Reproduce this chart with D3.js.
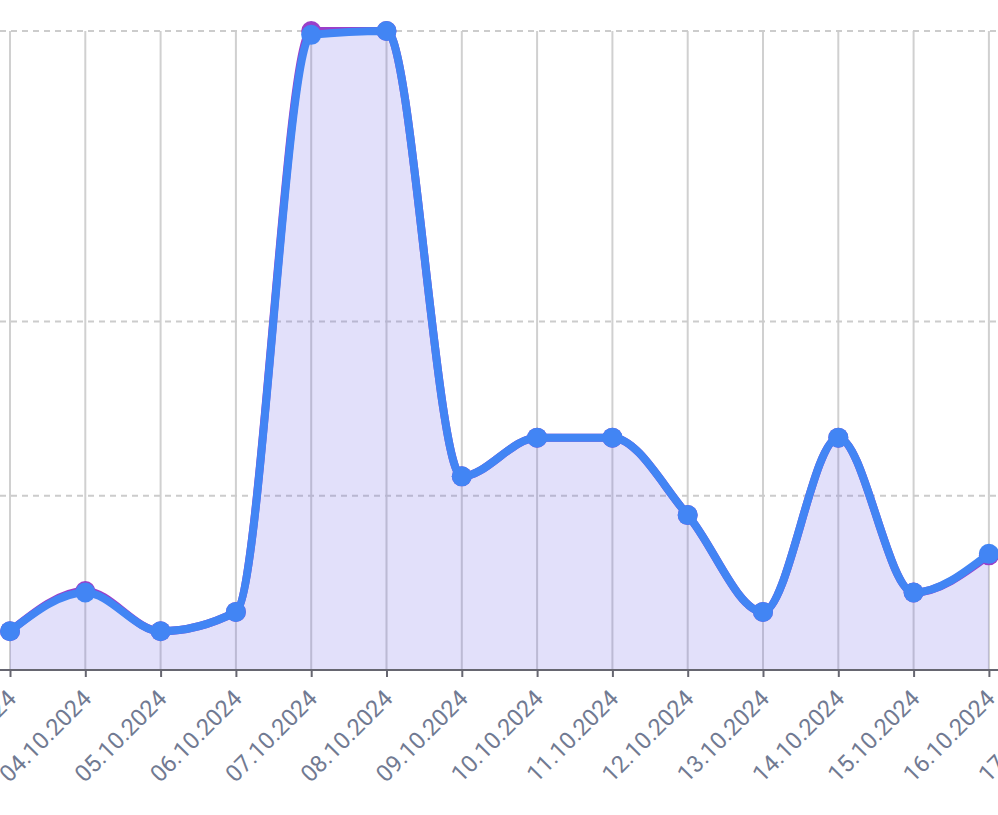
<!DOCTYPE html>
<html>
<head>
<meta charset="utf-8">
<script src="https://cdn.jsdelivr.net/npm/d3@7"></script>
<style>
html,body{margin:0;padding:0;background:#fff;overflow:hidden;}
svg{display:block;}
</style>
</head>
<body>
<svg id="chart" width="998" height="815"></svg>
<script>
const dates = ['03.10.2024','04.10.2024','05.10.2024','06.10.2024','07.10.2024','08.10.2024','09.10.2024','10.10.2024','11.10.2024','12.10.2024','13.10.2024','14.10.2024','15.10.2024','16.10.2024','17.10.2024'];
const dataDates = dates.slice(0, 14);
const seriesTotal = [2, 4.08, 2, 3, 33, 33, 10, 12, 12, 8, 3, 12, 4, 5.92];
const seriesMain  = [2, 4, 2, 3, 32.8, 33, 10, 12, 12, 8, 3, 12, 4, 6];
const gridValues = [9, 18, 33];
const yMax = 33;

const svg = d3.select('#chart');
const plotTop = 31, plotBottom = 670;
const x = d3.scalePoint().domain(dates).range([10, 10 + 14 * 75.3]);
const y = d3.scaleLinear().domain([0, yMax]).range([plotBottom, plotTop]);

// vertical grid
svg.append('g').selectAll('line').data(dates).join('line')
  .attr('x1', d => x(d)).attr('x2', d => x(d))
  .attr('y1', plotTop).attr('y2', plotBottom)
  .attr('stroke', '#d0d0d0').attr('stroke-width', 2);

// horizontal dashed grid
svg.append('g').selectAll('line').data(gridValues).join('line')
  .attr('x1', 0).attr('x2', 998)
  .attr('y1', d => y(d)).attr('y2', d => y(d))
  .attr('stroke', '#cccccc').attr('stroke-width', 2)
  .attr('stroke-dasharray', '6,5');

const pts = (vals) => vals.map((v, i) => [dataDates[i], v]);

// area
const area = d3.area().curve(d3.curveMonotoneX)
  .x(d => x(d[0])).y0(plotBottom).y1(d => y(d[1]));
svg.append('path').datum(pts(seriesTotal))
  .attr('d', area).attr('fill', 'rgba(110,100,230,0.2)');

const line = d3.line().curve(d3.curveMonotoneX)
  .x(d => x(d[0])).y(d => y(d[1]));

// axis
const axis = d3.axisBottom(x).tickSize(7).tickSizeOuter(0);
const ax = svg.append('g').attr('transform', `translate(0,${plotBottom})`).call(axis);
ax.select('.domain').attr('stroke', '#666670').attr('stroke-width', 2).attr('d', 'M0,0H998');
ax.selectAll('.tick line').attr('stroke', '#666670').attr('stroke-width', 2);
ax.selectAll('.tick text')
  .attr('font-family', 'Roboto, sans-serif').attr('font-size', 23.5)
  .attr('fill', '#717a92')
  .attr('text-anchor', 'end')
  .attr('dy', 0).attr('y', 0)
  .attr('transform', 'translate(7,30) rotate(-45)');

// purple series
svg.append('path').datum(pts(seriesTotal))
  .attr('d', line).attr('fill', 'none')
  .attr('stroke', '#9b3fc9').attr('stroke-width', 8);
svg.append('g').selectAll('circle').data(pts(seriesTotal)).join('circle')
  .attr('cx', d => x(d[0])).attr('cy', d => y(d[1])).attr('r', 10)
  .attr('fill', '#9b3fc9');

// blue series
svg.append('path').datum(pts(seriesMain))
  .attr('d', line).attr('fill', 'none')
  .attr('stroke', '#4285f4').attr('stroke-width', 8);
svg.append('g').selectAll('circle').data(pts(seriesMain)).join('circle')
  .attr('cx', d => x(d[0])).attr('cy', d => y(d[1])).attr('r', 10)
  .attr('fill', '#4285f4');
</script>
</body>
</html>
